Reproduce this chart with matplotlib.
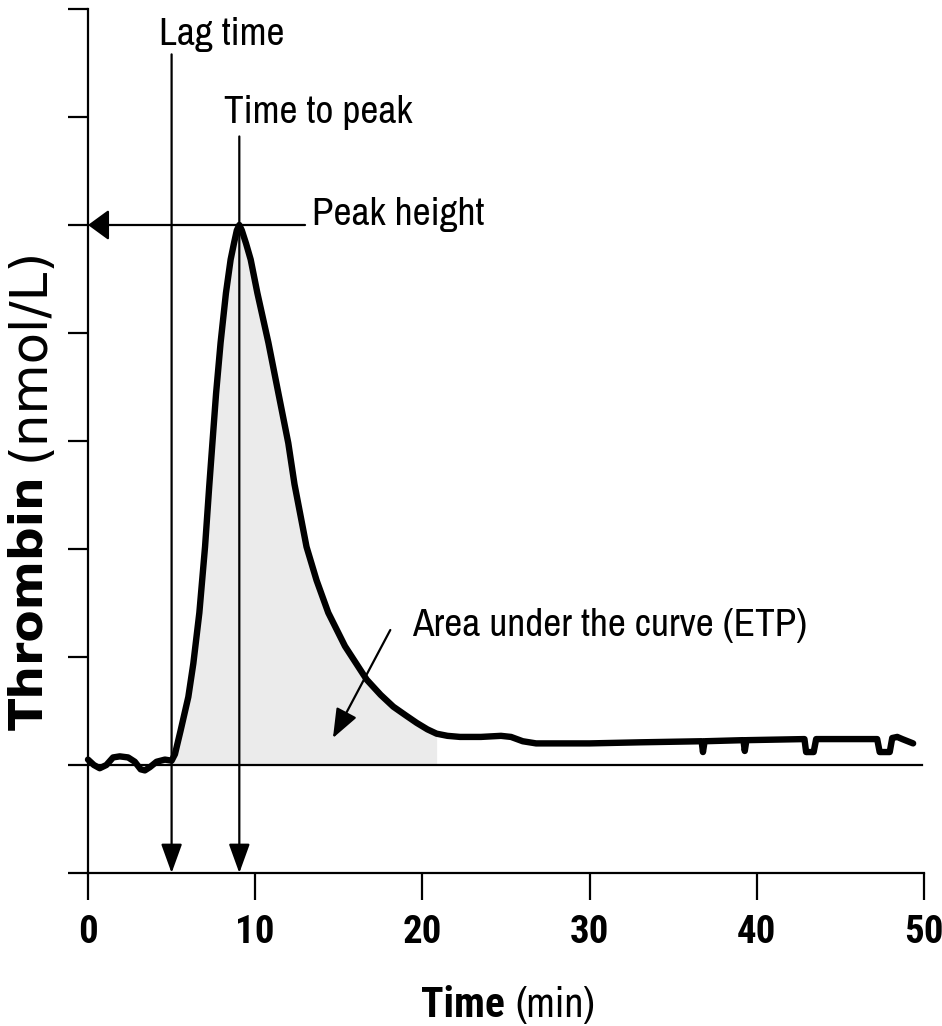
import matplotlib
matplotlib.use("Agg")
import matplotlib.pyplot as plt
import matplotlib.patches as mpatches
import numpy as np
from matplotlib.transforms import IdentityTransform

# thrombin generation curve (y in tick units, baseline = 0)
time_min = [0.0, 0.35, 0.7, 1.1, 1.5, 1.9, 2.4, 2.8, 3.15, 3.4, 3.7, 4.1, 4.6, 5.0,
            5.2, 5.54, 6.0, 6.3, 6.66, 7.0, 7.25, 7.44, 7.66, 7.93, 8.25, 8.53,
            8.73, 8.9, 9.05, 9.2, 9.45, 9.73, 10.13, 10.79, 11.39, 11.98, 12.35,
            13.07, 13.67, 14.37, 15.37, 16.67, 17.5, 18.26, 19.0, 19.66, 20.3,
            20.85, 21.5, 22.25, 23.5, 24.7, 25.3, 26.0, 26.8, 30.0, 33.0, 36.7,
            36.78, 36.88, 39.2, 39.28, 39.38, 42.85, 42.95, 43.4, 43.55, 47.2,
            47.35, 47.95, 48.1, 48.4, 48.7, 49.35]
thrombin = [0.05, 0.0, -0.03, 0.0, 0.07, 0.08, 0.07, 0.03, -0.04, -0.05, -0.02, 0.03,
            0.05, 0.04, 0.1, 0.32, 0.63, 0.94, 1.41, 2.02, 2.58, 2.98, 3.44, 3.91,
            4.37, 4.68, 4.83, 4.95, 5.0, 4.95, 4.83, 4.68, 4.37, 3.91, 3.44, 2.98,
            2.6, 2.02, 1.71, 1.41, 1.10, 0.79, 0.65, 0.54, 0.46, 0.39, 0.33, 0.29,
            0.27, 0.26, 0.26, 0.27, 0.26, 0.22, 0.20, 0.20, 0.21, 0.22, 0.12, 0.22,
            0.23, 0.13, 0.23, 0.24, 0.12, 0.12, 0.24, 0.24, 0.12, 0.12, 0.25, 0.26,
            0.24, 0.20]

x_ticks = [0, 10, 20, 30, 40, 50]
y_ticks = [-1, 0, 1, 2, 3, 4, 5, 6, 7]

lag_time = 5.0
time_to_peak = 9.05
peak_height = 5.0
etp_end = 20.85

NARROW = ["Archivo Narrow", "Liberation Sans", "DejaVu Sans"]
NARROW_BOLD = ["Roboto Condensed", "Barlow Semi Condensed", "Liberation Sans",
               "DejaVu Sans"]

fig = plt.figure(figsize=(9.42, 10.26), dpi=100)
ax = fig.add_axes([88 / 942, 0.14912, 836 / 942, 0.84211])
ax.set_xlim(0, 50)
ax.set_ylim(-1, 7)

for s in ("top", "right"):
    ax.spines[s].set_visible(False)
for s in ("left", "bottom"):
    ax.spines[s].set_linewidth(1.6)

ax.set_yticks(y_ticks)
ax.set_yticklabels([])
ax.tick_params(axis="y", length=14.4, width=1.6, direction="out")
ax.set_xticks(x_ticks)
ax.set_xticklabels([str(t) for t in x_ticks], fontsize=28, fontweight="bold",
                   family=NARROW_BOLD)
ax.tick_params(axis="x", length=19.4, width=1.6, direction="out", pad=10)

t = np.array(time_min)
y = np.array(thrombin)
band = (t >= lag_time) & (t <= etp_end)
ax.fill_between(t[band], 0, y[band], color="#ebebeb", lw=0, zorder=1)

# baseline
ax.plot([0, 49.9], [0, 0], color="black", lw=1.6, zorder=2)

ax.plot(t, y, color="black", lw=4.6, solid_capstyle="round",
        solid_joinstyle="round", zorder=4, clip_on=False)


def arrow(x0, y0, x1, y1, hl, hw):
    ax.add_patch(mpatches.FancyArrowPatch(
        (x0, y0), (x1, y1), arrowstyle=f"-|>,head_length={hl},head_width={hw}",
        mutation_scale=1, lw=1.6, color="black", shrinkA=0, shrinkB=0,
        clip_on=False, zorder=3))


arrow(lag_time, 6.58, lag_time, -1, 18, 6.5)
arrow(time_to_peak, 5.82, time_to_peak, -1, 18, 6.5)
arrow(12.98, peak_height, 0, peak_height, 13, 9.5)
arrow(18.08, 1.25, 14.65, 0.25, 18, 7)

txt = dict(fontsize=28.3, family=NARROW, color="black")
ax.text(8.01, 6.67, "Lag time", ha="center", va="baseline", **txt)
ax.text(13.76, 5.94, "Time to peak", ha="center", va="baseline", **txt)
ax.text(13.4, 5.0, "Peak height", ha="left", va="baseline", **txt)
ax.text(19.38, 1.19, "Area under the curve (ETP)", ha="left", va="baseline", **txt)

ax.text(24.94, -2.335, "Time", ha="right", va="baseline", fontweight="bold",
        fontsize=30, family=NARROW_BOLD)
ax.text(25.54, -2.335, "(min)", ha="left", va="baseline", fontsize=30, family=NARROW)

# y label: bold "Thrombin" + regular "(nmol/L)", stacked along the axis
t1 = fig.text(30, 1026 - 730, "Thrombin", rotation=90, ha="center", va="bottom",
              fontsize=34, fontweight="bold", family="DejaVu Sans",
              transform=IdentityTransform())
fig.canvas.draw()
bb = t1.get_window_extent()
fig.text(30, bb.y1 + 14, "(nmol/L)", rotation=90, ha="center", va="bottom",
         fontsize=37, family="DejaVu Sans", transform=IdentityTransform())

fig.savefig("out.png", dpi=100)
